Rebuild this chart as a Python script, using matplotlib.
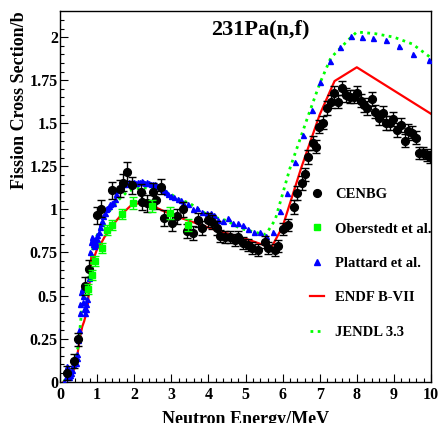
import matplotlib
matplotlib.use("Agg")
import matplotlib.pyplot as plt
from matplotlib.lines import Line2D

plt.rcParams['font.family'] = ['Liberation Serif', 'DejaVu Serif']
plt.rcParams['font.weight'] = 'bold'

# CENBG measurement
cenbg_x = [0.20, 0.38, 0.49, 0.67, 0.79, 1.00, 1.10, 1.41, 1.62, 1.70, 1.81, 1.95,
           2.18, 2.22, 2.35, 2.50, 2.60, 2.72, 2.80, 3.01, 3.16, 3.31, 3.41, 3.59,
           3.73, 3.82, 3.98, 4.11, 4.22, 4.31, 4.46, 4.58, 4.72, 4.81, 4.94, 5.08,
           5.17, 5.35, 5.53, 5.61, 5.80, 5.88, 6.02, 6.15, 6.30, 6.40, 6.51, 6.61,
           6.69, 6.81, 6.90, 6.99, 7.10, 7.21, 7.30, 7.39, 7.48, 7.60, 7.71, 7.82,
           7.92, 8.00, 8.11, 8.19, 8.27, 8.40, 8.49, 8.61, 8.70, 8.80, 8.90, 8.98,
           9.09, 9.19, 9.30, 9.39, 9.48, 9.59, 9.68, 9.79, 9.90, 9.97]
cenbg_y = [0.05, 0.12, 0.245, 0.556, 0.655, 0.965, 1.005, 1.11, 1.12, 1.155, 1.22, 1.14,
           1.10, 1.045, 1.036, 1.103, 1.055, 1.132, 0.949, 0.92, 0.96, 1.00, 0.876, 0.862,
           0.939, 0.891, 0.939, 0.929, 0.891, 0.845, 0.84, 0.842, 0.823, 0.842, 0.804, 0.794,
           0.775, 0.765, 0.813, 0.775, 0.765, 0.788, 0.885, 0.91, 1.015, 1.096, 1.154, 1.203,
           1.303, 1.384, 1.365, 1.481, 1.504, 1.588, 1.626, 1.675, 1.626, 1.704, 1.665, 1.655,
           1.655, 1.678, 1.632, 1.607, 1.588, 1.64, 1.568, 1.53, 1.562, 1.50, 1.50, 1.524,
           1.462, 1.491, 1.40, 1.456, 1.442, 1.417, 1.33, 1.33, 1.317, 1.307]
cenbg_err = [0.04, 0.04, 0.04, 0.05, 0.05, 0.05, 0.05, 0.05, 0.05, 0.05, 0.055, 0.05,
             0.05, 0.05, 0.05, 0.05, 0.05, 0.045, 0.045, 0.045, 0.045, 0.045, 0.04, 0.04,
             0.04, 0.04, 0.04, 0.04, 0.04, 0.035, 0.035, 0.035, 0.035, 0.035, 0.035, 0.035,
             0.035, 0.035, 0.035, 0.035, 0.035, 0.035, 0.035, 0.035, 0.04, 0.04, 0.04, 0.04,
             0.04, 0.04, 0.04, 0.04, 0.04, 0.04, 0.04, 0.04, 0.04, 0.04, 0.04, 0.04,
             0.04, 0.04, 0.04, 0.04, 0.04, 0.04, 0.04, 0.04, 0.04, 0.04, 0.04, 0.04,
             0.04, 0.04, 0.04, 0.04, 0.04, 0.04, 0.035, 0.035, 0.035, 0.035]

# Oberstedt et al.
ober_x = [0.76, 0.85, 0.94, 1.12, 1.26, 1.39, 1.66, 1.98, 2.47, 2.96, 3.46]
ober_y = [0.54, 0.62, 0.70, 0.775, 0.88, 0.91, 0.975, 1.04, 1.022, 0.98, 0.91]
ober_err = [0.03, 0.03, 0.03, 0.03, 0.03, 0.03, 0.03, 0.035, 0.035, 0.035, 0.035]

# Plattard et al.
platt_x = [0.12, 0.15, 0.17, 0.19, 0.21, 0.24, 0.27, 0.30, 0.33, 0.36, 0.39, 0.42,
           0.45, 0.47, 0.49, 0.51, 0.53, 0.55, 0.57, 0.59, 0.61, 0.63, 0.65, 0.67,
           0.69, 0.71, 0.73, 0.75, 0.77, 0.79, 0.81, 0.83, 0.85, 0.87, 0.89, 0.91,
           0.93, 0.95, 0.97, 0.99, 1.01, 1.04, 1.07, 1.10, 1.13, 1.16, 1.20, 1.24,
           1.28, 1.32, 1.36, 1.40, 1.44, 1.48, 1.52, 1.56, 1.60, 1.65, 1.70, 1.75,
           1.80, 1.85, 1.90, 1.95, 2.00, 2.05, 2.10, 2.15, 2.20, 2.25, 2.30, 2.35,
           2.40, 2.45, 2.50, 2.55, 2.60, 2.65, 2.70, 2.75, 2.80, 2.85, 2.92, 3.00,
           3.08, 3.17, 3.25, 3.32, 3.46, 3.58, 3.68, 3.82, 3.95, 4.06, 4.16, 4.27,
           4.40, 4.52, 4.65, 4.81, 4.92, 5.08, 5.23, 5.39, 5.55, 5.75, 5.93, 6.13,
           6.33, 6.56, 6.79, 7.02, 7.28, 7.55, 7.84, 8.13, 8.44, 8.80, 9.15, 9.52, 9.95]
platt_y = [0.00, 0.03, 0.07, 0.09, 0.06, 0.03, 0.04, 0.05, 0.07, 0.10, 0.12, 0.11,
           0.14, 0.16, 0.24, 0.30, 0.40, 0.45, 0.52, 0.54, 0.50, 0.46, 0.42, 0.40,
           0.42, 0.45, 0.48, 0.55, 0.60, 0.66, 0.75, 0.81, 0.84, 0.82, 0.80, 0.79,
           0.81, 0.82, 0.80, 0.83, 0.85, 0.87, 0.90, 0.92, 0.93, 0.96, 0.98, 1.00,
           1.01, 1.02, 1.03, 1.035, 1.04, 1.06, 1.09, 1.11, 1.13, 1.14, 1.15, 1.155,
           1.15, 1.16, 1.155, 1.16, 1.16, 1.155, 1.16, 1.16, 1.165, 1.16, 1.155, 1.16,
           1.155, 1.15, 1.15, 1.145, 1.14, 1.135, 1.13, 1.12, 1.11, 1.10, 1.09, 1.08,
           1.07, 1.06, 1.055, 1.04, 1.03, 1.00, 1.007, 0.987, 0.981, 0.978, 0.968, 0.939,
           0.935, 0.949, 0.920, 0.920, 0.910, 0.885, 0.869, 0.869, 0.848, 0.868, 0.993, 1.094,
           1.278, 1.43, 1.578, 1.737, 1.864, 1.945, 2.008, 2.003, 1.994, 1.984, 1.948, 1.903, 1.868]

# ENDF/B-VII evaluation
endf_x = [0.1, 0.2, 0.3, 0.4, 0.45, 0.5, 0.55, 0.6, 0.65, 0.7, 0.75, 0.8, 0.85, 0.9,
          0.95, 1.0, 1.1, 1.2, 1.35, 1.5, 1.7, 1.9, 2.1, 2.3, 2.6, 3.0, 3.4, 3.8, 4.2,
          4.6, 5.0, 5.4, 5.7, 6.0, 6.5, 7.0, 7.4, 8.0, 10.0]
endf_y = [0.0, 0.02, 0.04, 0.08, 0.13, 0.20, 0.27, 0.32, 0.35, 0.39, 0.45, 0.58, 0.75, 0.71,
          0.74, 0.77, 0.80, 0.84, 0.88, 0.93, 0.98, 1.02, 1.035, 1.035, 1.01, 0.97, 0.94, 0.91, 0.88,
          0.855, 0.83, 0.80, 0.78, 0.90, 1.24, 1.55, 1.745, 1.825, 1.555]

# JENDL-3.3 evaluation
jendl_x = [0.1, 0.2, 0.3, 0.4, 0.5, 0.6, 0.7, 0.8, 0.9, 1.0, 1.2, 1.4, 1.6, 1.8, 2.0,
           2.3, 2.6, 2.9, 3.2, 3.5, 4.0, 4.5, 4.85, 5.4, 5.55, 5.8, 6.2, 6.7, 7.0, 7.3,
           7.8, 8.0, 8.5, 9.0, 9.5, 10.0]
jendl_y = [0.0, 0.03, 0.05, 0.10, 0.22, 0.45, 0.48, 0.65, 0.80, 0.85, 0.95, 1.01, 1.06, 1.10, 1.12,
           1.125, 1.12, 1.10, 1.06, 1.035, 0.965, 0.935, 0.89, 0.86, 0.855, 0.94, 1.24, 1.55, 1.73, 1.88,
           1.99, 2.03, 2.02, 2.0, 1.96, 1.88]

GREEN = '#00ff00'
BLUE = '#0000ff'
RED = '#ff0000'

fig = plt.figure(figsize=(4.40, 4.23), dpi=100)
ax = fig.add_axes([60 / 440, (423 - 381.7) / 423, 371 / 440, 370.4 / 423])

ax.plot(endf_x, endf_y, color=RED, lw=1.6, zorder=2)
ax.plot(jendl_x, jendl_y, color=GREEN, lw=2.0, ls=(0, (1, 1.6)), zorder=2)
ax.plot(platt_x, platt_y, ls='none', marker='^', ms=3.6, color=BLUE, mec=BLUE, zorder=3)
ax.errorbar(cenbg_x, cenbg_y, yerr=cenbg_err, fmt='o', ms=5.6, color='black',
            ecolor='black', elinewidth=1.0, capsize=3, capthick=1.0, zorder=4)
ax.errorbar(ober_x, ober_y, yerr=ober_err, fmt='s', ms=5.0, color=GREEN,
            ecolor=GREEN, elinewidth=1.0, capsize=3, capthick=1.0, zorder=5)

ax.set_xlim(0, 10)
ax.set_ylim(0, 2.15)
ax.set_xticks(range(0, 11))
ax.set_yticks([0, 0.25, 0.5, 0.75, 1, 1.25, 1.5, 1.75, 2])
ax.set_yticklabels(['0', '0.25', '0.5', '0.75', '1', '1.25', '1.5', '1.75', '2'])
ax.set_xticks([i * 0.2 for i in range(51)], minor=True)
ax.set_yticks([i * 0.05 for i in range(43)], minor=True)
ax.tick_params(axis='both', which='both', direction='in', top=False, right=False,
               labelsize=11.5)
ax.tick_params(axis='both', which='major', length=6, width=0.8)
ax.tick_params(axis='both', which='minor', length=3, width=0.8)
ax.tick_params(axis='y', which='major', pad=1.5)
ax.tick_params(axis='x', which='major', pad=3.5)
for sp in ax.spines.values():
    sp.set_linewidth(1.0)

ax.set_xlabel('Neutron Energy/MeV', fontsize=13, fontweight='bold', labelpad=6)
ax.set_ylabel('Fission Cross Section/b', fontsize=13, fontweight='bold', loc='top',
              labelpad=1)

ax.text(0.54, 0.95, '231Pa(n,f)', transform=ax.transAxes, ha='center', va='center',
        fontsize=16, fontweight='bold')

handles = [
    Line2D([], [], ls='none', marker='o', ms=5.6, color='black'),
    Line2D([], [], ls='none', marker='s', ms=5.0, color=GREEN),
    Line2D([], [], ls='none', marker='^', ms=4.5, color=BLUE),
    Line2D([], [], color=RED, lw=1.6),
    Line2D([], [], color=GREEN, lw=2.0, ls=(0, (1, 1.6))),
]
labels = ['CENBG', 'Oberstedt et al.', 'Plattard et al.', 'ENDF B-VII', 'JENDL 3.3']
ax.legend(handles, labels, loc='upper left', bbox_to_anchor=(0.673, 0.523),
          frameon=False, handlelength=1.0, handletextpad=0.75,
          labelspacing=1.45, borderpad=0, borderaxespad=0,
          prop={'weight': 'bold', 'size': 10.5})

fig.savefig('out.png', dpi=100)
